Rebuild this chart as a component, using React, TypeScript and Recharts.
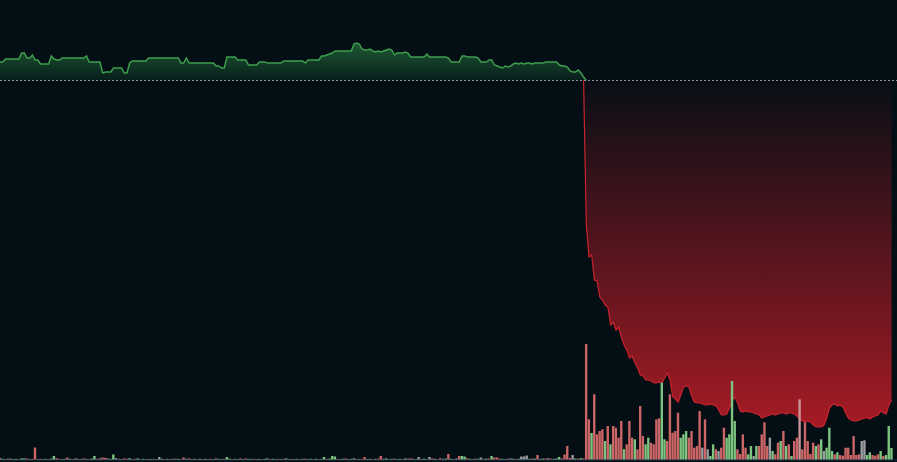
import { ComposedChart, Area, Bar, Cell, XAxis, YAxis, ReferenceLine } from 'recharts'

// ─── Data ────────────────────────────────────────────────────────────────────

// price the session opened at; the dashed baseline
const openPrice = 0.3815

// close per candle (331 candles)
const price = [
  0.400, 0.400, 0.403, 0.403, 0.403, 0.403, 0.403, 0.403, 0.409, 0.409,
  0.404, 0.404, 0.407, 0.402, 0.402, 0.398, 0.398, 0.398, 0.398, 0.406,
  0.403, 0.402, 0.402, 0.404, 0.404, 0.404, 0.404, 0.404, 0.404, 0.404,
  0.404, 0.404, 0.406, 0.400, 0.400, 0.400, 0.400, 0.400, 0.389, 0.390,
  0.390, 0.390, 0.394, 0.394, 0.394, 0.394, 0.389, 0.389, 0.399, 0.401,
  0.401, 0.401, 0.401, 0.401, 0.401, 0.404, 0.404, 0.404, 0.404, 0.404,
  0.404, 0.404, 0.404, 0.404, 0.404, 0.404, 0.404, 0.399, 0.399, 0.404,
  0.399, 0.399, 0.399, 0.399, 0.399, 0.399, 0.399, 0.399, 0.399, 0.399,
  0.396, 0.396, 0.394, 0.394, 0.405, 0.405, 0.405, 0.405, 0.402, 0.402,
  0.402, 0.402, 0.397, 0.397, 0.397, 0.397, 0.400, 0.400, 0.400, 0.399,
  0.399, 0.399, 0.399, 0.399, 0.399, 0.401, 0.401, 0.401, 0.401, 0.401,
  0.401, 0.401, 0.401, 0.399, 0.402, 0.402, 0.402, 0.402, 0.402, 0.406,
  0.406, 0.407, 0.408, 0.409, 0.411, 0.411, 0.411, 0.411, 0.411, 0.411,
  0.411, 0.418, 0.419, 0.418, 0.413, 0.412, 0.412, 0.413, 0.411, 0.410,
  0.411, 0.410, 0.411, 0.412, 0.413, 0.412, 0.407, 0.409, 0.409, 0.409,
  0.410, 0.409, 0.405, 0.405, 0.405, 0.405, 0.405, 0.405, 0.408, 0.405,
  0.405, 0.405, 0.405, 0.405, 0.405, 0.405, 0.404, 0.400, 0.400, 0.400,
  0.400, 0.406, 0.406, 0.405, 0.405, 0.405, 0.405, 0.404, 0.400, 0.400,
  0.400, 0.402, 0.402, 0.397, 0.396, 0.395, 0.394, 0.396, 0.395, 0.396,
  0.398, 0.399, 0.398, 0.399, 0.398, 0.399, 0.399, 0.398, 0.399, 0.399,
  0.399, 0.399, 0.400, 0.400, 0.400, 0.400, 0.400, 0.397, 0.396, 0.396,
  0.395, 0.391, 0.390, 0.390, 0.392, 0.389, 0.385, 0.237, 0.205, 0.207,
  0.182, 0.181, 0.165, 0.162, 0.157, 0.155, 0.137, 0.140, 0.132, 0.135,
  0.125, 0.117, 0.112, 0.104, 0.106, 0.099, 0.094, 0.087, 0.086, 0.082,
  0.082, 0.081, 0.079, 0.079, 0.080, 0.079, 0.084, 0.089, 0.082, 0.065,
  0.063, 0.060, 0.067, 0.075, 0.076, 0.075, 0.066, 0.060, 0.059, 0.059,
  0.058, 0.057, 0.057, 0.058, 0.057, 0.056, 0.052, 0.047, 0.047, 0.048,
  0.054, 0.062, 0.065, 0.059, 0.051, 0.050, 0.051, 0.050, 0.050, 0.049,
  0.048, 0.047, 0.044, 0.045, 0.046, 0.047, 0.048, 0.047, 0.048, 0.049,
  0.049, 0.048, 0.049, 0.049, 0.048, 0.046, 0.043, 0.041, 0.040, 0.041,
  0.040, 0.037, 0.035, 0.035, 0.035, 0.037, 0.044, 0.054, 0.057, 0.058,
  0.056, 0.057, 0.055, 0.049, 0.044, 0.042, 0.041, 0.041, 0.042, 0.043,
  0.044, 0.044, 0.043, 0.045, 0.046, 0.047, 0.051, 0.049, 0.048, 0.057,
  0.062,
]

// volume per candle (thousands)
const volume = [
  20, 12, 10, 14, 16, 10, 12, 10, 16, 16,
  16, 10, 12, 125, 10, 12, 9, 12, 10, 14,
  40, 18, 12, 10, 12, 25, 12, 10, 16, 12,
  10, 16, 12, 10, 14, 40, 12, 15, 25, 22,
  15, 12, 55, 18, 12, 10, 16, 12, 18, 10,
  12, 16, 10, 12, 10, 12, 10, 12, 10, 30,
  12, 10, 12, 10, 12, 14, 12, 10, 25, 12,
  16, 10, 12, 10, 12, 10, 12, 10, 12, 10,
  16, 12, 10, 12, 30, 14, 10, 12, 10, 16,
  10, 16, 12, 10, 12, 10, 12, 10, 12, 16,
  10, 12, 10, 12, 10, 12, 16, 10, 12, 10,
  12, 10, 12, 14, 10, 12, 10, 12, 10, 12,
  30, 12, 14, 40, 35, 12, 10, 12, 16, 10,
  12, 16, 12, 10, 12, 30, 10, 12, 10, 12,
  14, 40, 12, 16, 10, 12, 14, 10, 12, 10,
  16, 12, 18, 12, 10, 30, 12, 14, 10, 30,
  16, 12, 10, 18, 12, 14, 60, 12, 10, 15,
  40, 40, 35, 18, 12, 10, 14, 12, 25, 12,
  14, 15, 40, 25, 25, 15, 12, 10, 14, 16,
  12, 10, 14, 35, 35, 45, 12, 15, 14, 50,
  12, 14, 15, 18, 14, 12, 15, 30, 15, 55,
  140, 20, 50, 15, 14, 18, 16, 1160, 407, 270,
  657, 257, 290, 307, 190, 340, 157, 340, 323, 223,
  390, 107, 157, 390, 223, 207, 107, 540, 240, 157,
  223, 173, 157, 407, 417, 773, 207, 190, 657, 273,
  290, 473, 223, 257, 290, 223, 290, 123, 140, 490,
  123, 407, 107, 40, 157, 107, 90, 123, 323, 223,
  257, 790, 390, 107, 60, 257, 123, 57, 140, 40,
  140, 140, 257, 377, 140, 223, 90, 57, 173, 190,
  290, 140, 157, 40, 190, 223, 607, 107, 377, 190,
  60, 173, 140, 157, 207, 90, 123, 323, 90, 57,
  77, 50, 43, 123, 123, 50, 240, 50, 57, 190,
  197, 50, 77, 50, 43, 57, 90, 40, 50, 340,
  120,
]

// candle direction: r = down, g = up, n = flat, p = flagged
const side = (
  'rgrnrggrgg' + 'rnrrgrngrg' + 'grrgnrgrnr' + 'grnrggrnrr' + 'nggnrgrrgn' +
  'rgrgnrgrnn' + 'grgrnrgrrg' + 'rngrgrngrg' + 'rngrggrngr' + 'grngrngrgn' +
  'rgnrgrngrg' + 'nrgrngrgrn' + 'grgggrngrg' + 'ngrgrrgnrg' + 'rrngrgrngr' +
  'ngrngnrgnn' + 'rgrrngrgrn' + 'rggrgnrgnr' + 'grgrrrgnrn' + 'grnnnngrgr' +
  'ngrnrgngrr' + 'rrngrgrrrg' + 'rrrrgrgrrr' + 'rgrrrgrrrg' + 'grrrrggrrr' +
  'rrgggrrrrr' + 'nrnggrnrrg' + 'gggrrrrggn' + 'grrrrngrrg' + 'rgrgrrprrr' +
  'rrgrgngggr' + 'grrrrrrrrn' + 'nggrrrgrgg' + 'g'
).split('')

const VOL_COLORS: Record<string, string> = {
  r: '#cc6566',
  g: '#7cc47f',
  n: '#9a9c9f',
  p: '#c99597',
}

// ─── Chart rows ──────────────────────────────────────────────────────────────

const firstBelow = price.findIndex((p) => p < openPrice)

const rows = price.map((p, i) => ({
  i,
  above: i <= firstBelow ? Math.max(p, openPrice) : null,
  below: i >= firstBelow - 1 ? Math.min(p, openPrice) : null,
  vol: volume[i],
  side: side[i],
}))

// ─── Component ───────────────────────────────────────────────────────────────

export default function App() {
  return (
    <div style={{ position: 'fixed', left: 0, top: 0, width: 897, height: 462, background: '#030e15' }}>
      <ComposedChart width={897} height={462} data={rows} margin={{ top: 0, right: 0, bottom: 0, left: 0 }}>
        <defs>
          <linearGradient id="upFill" x1="0" y1="0" x2="0" y2="1">
            <stop offset="0%" stopColor="#2f8d47" stopOpacity={0.6} />
            <stop offset="100%" stopColor="#2f8d47" stopOpacity={0.12} />
          </linearGradient>
          <linearGradient id="downFill" x1="0" y1="0" x2="0" y2="1">
            <stop offset="0%" stopColor="#c21d28" stopOpacity={0.03} />
            <stop offset="100%" stopColor="#c21d28" stopOpacity={0.85} />
          </linearGradient>
        </defs>

        <XAxis dataKey="i" type="number" domain={[0, 332]} hide />
        <YAxis yAxisId="p" domain={[0, 0.462]} hide />
        <YAxis yAxisId="v" domain={[-20, 4600]} hide />

        <Area
          yAxisId="p"
          type="linear"
          dataKey="above"
          baseValue={openPrice}
          stroke="#3f9e4e"
          strokeWidth={1.5}
          fill="url(#upFill)"
          fillOpacity={1}
          dot={false}
          activeDot={false}
          isAnimationActive={false}
        />
        <Area
          yAxisId="p"
          type="linear"
          dataKey="below"
          baseValue={openPrice}
          stroke="#c9232d"
          strokeWidth={1.2}
          fill="url(#downFill)"
          fillOpacity={1}
          dot={false}
          activeDot={false}
          isAnimationActive={false}
        />

        <ReferenceLine yAxisId="v" y={0} stroke="#173447" strokeWidth={1} />

        <Bar yAxisId="v" dataKey="vol" barSize={2.4} isAnimationActive={false}>
          {rows.map((r) => (
            <Cell key={`vol-${r.i}`} fill={VOL_COLORS[r.side]} />
          ))}
        </Bar>

        {/* session open baseline */}
        <ReferenceLine yAxisId="p" y={openPrice} stroke="#8d959b" strokeDasharray="2 2" strokeWidth={1} />
      </ComposedChart>
    </div>
  )
}
